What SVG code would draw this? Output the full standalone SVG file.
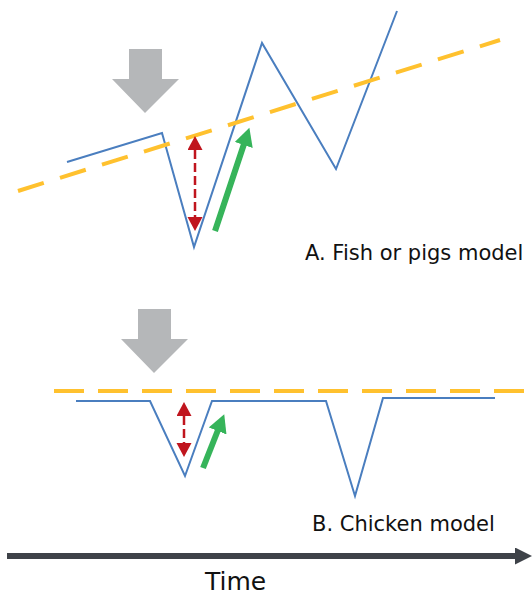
<svg xmlns="http://www.w3.org/2000/svg" width="532" height="596" viewBox="0 0 532 596">
<style>
.curve{fill:none;stroke:#4A7EBF;stroke-width:2;stroke-linejoin:miter}
.thresh{fill:none;stroke:#FFC12E;stroke-width:4}
.gray{fill:#B5B7B9}
.red{stroke:#C0151E;stroke-width:2.5;stroke-dasharray:9 4;fill:none}
.green{stroke:#36B45A;stroke-width:6;fill:none}
.lbl{font-family:"DejaVu Sans",Verdana,sans-serif;font-size:21px;fill:#111}
</style>
<defs>
<marker id="redHead" markerUnits="userSpaceOnUse" markerWidth="14" markerHeight="16" refX="0" refY="7.5" orient="auto-start-reverse" viewBox="0 0 14 16">
<path d="M0,0 L14,7.5 L0,15 z" fill="#C0151E"/>
</marker>
<marker id="greenHead" markerUnits="userSpaceOnUse" markerWidth="19" markerHeight="20" refX="1" refY="9.5" orient="auto" viewBox="0 0 19 20">
<path d="M0,0 L18,9.5 L0,19 z" fill="#36B45A"/>
</marker>
<marker id="axisHead" markerUnits="userSpaceOnUse" markerWidth="18" markerHeight="18" refX="1" refY="8.5" orient="auto" viewBox="0 0 18 18">
<path d="M0,0 L17,8.5 L0,17 z" fill="#3E4248"/>
</marker>
</defs>

<g id="panelA">
<g id="A-event"><path class="gray" d="M129,49 H162 V79 H179 L145,113 L112,79 H129 Z"/></g>
<g id="A-curve"><polyline class="curve" points="67,162 162,133 194,247 262,43 336,169 397,11"/></g>
<g id="A-threshold"><line class="thresh" x1="18" y1="191" x2="500" y2="40" style="stroke-dasharray:27 17"/></g>
<g id="A-label"><text class="lbl" x="305" y="260">A. Fish or pigs model</text></g>
</g>

<g id="panelB">
<g id="B-event"><path class="gray" d="M138,309 H171 V339 H188 L154,373 L121,339 H138 Z"/></g>
<g id="B-curve"><polyline class="curve" points="76,401 150,401 185,476 212,401 326,401 355,496 383,398 495,398"/></g>
<g id="B-threshold"><line class="thresh" x1="54" y1="391" x2="525" y2="391" style="stroke-dasharray:30 14"/></g>
<g id="B-label"><text class="lbl" x="312" y="531">B. Chicken model</text></g>
</g>

<g id="connectors">
<line class="red" x1="195" y1="150" x2="195" y2="217" marker-start="url(#redHead)" marker-end="url(#redHead)"/>
<line class="green" x1="215" y1="231" x2="244" y2="144" marker-end="url(#greenHead)"/>
<line class="red" x1="184" y1="416" x2="184" y2="443" marker-start="url(#redHead)" marker-end="url(#redHead)"/>
<line class="green" x1="203" y1="468" x2="218" y2="430" marker-end="url(#greenHead)"/>
<line x1="7" y1="556" x2="516" y2="556" stroke="#3E4248" stroke-width="6" marker-end="url(#axisHead)"/>
</g>

<g id="axis-label"><text x="205" y="590" style="font-family:'DejaVu Sans',Verdana,sans-serif;font-size:25px;fill:#111">Time</text></g>
</svg>
